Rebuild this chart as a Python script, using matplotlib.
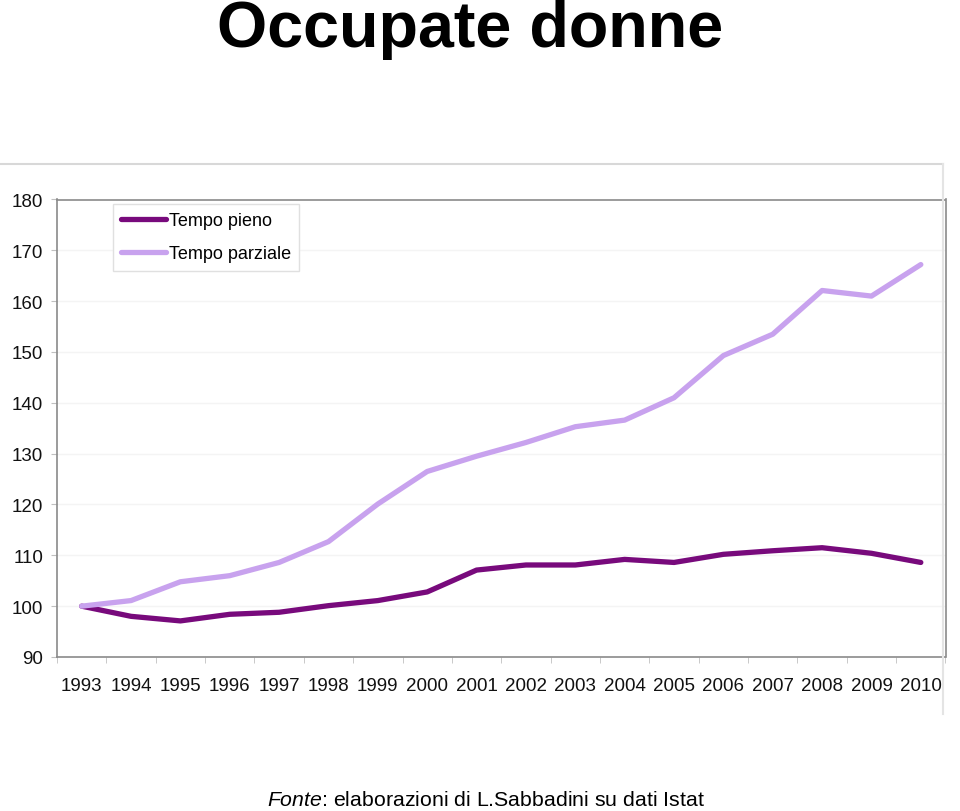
import matplotlib.pyplot as plt
from matplotlib.lines import Line2D

plt.rcParams['font.family'] = ['Liberation Sans', 'DejaVu Sans']
plt.rcParams['mathtext.fontset'] = 'custom'
plt.rcParams['mathtext.it'] = 'Liberation Sans:italic'
plt.rcParams['mathtext.rm'] = 'Liberation Sans'

anni = ['1993', '1994', '1995', '1996', '1997', '1998', '1999', '2000', '2001',
        '2002', '2003', '2004', '2005', '2006', '2007', '2008', '2009', '2010']
tempo_pieno = [100, 98.0, 97.1, 98.4, 98.8, 100.1, 101.1, 102.8, 107.1,
               108.1, 108.1, 109.2, 108.6, 110.2, 110.9, 111.5, 110.4, 108.6]
tempo_parziale = [100, 101.1, 104.8, 106.0, 108.6, 112.7, 120.1, 126.5, 129.5,
                  132.2, 135.3, 136.6, 141.0, 149.3, 153.5, 162.1, 161.0, 167.2]

fig = plt.figure(figsize=(9.6, 8.12), dpi=100)

fig.text(0.49, 0.942, 'Occupate donne', ha='center', va='baseline',
         fontsize=46.5, fontweight='bold')

# cornice dell'immagine del grafico
fig.add_artist(Line2D([0, 943/960], [1-165/812, 1-165/812], color='#d8d8d8', lw=1.5))
fig.add_artist(Line2D([943/960, 943/960], [1-165/812, 1-715/812], color='#e4e4e4', lw=1.5))

ax = fig.add_axes([57/960, 1-658/812, 888.5/960, 457.5/812])
x = list(range(len(anni)))
ax.plot(x, tempo_pieno, color='#780a7c', lw=3.8, solid_capstyle='round', label='Tempo pieno')
ax.plot(x, tempo_parziale, color='#c8a2ee', lw=3.8, solid_capstyle='round', label='Tempo parziale')

ax.set_xlim(-0.5, len(anni) - 0.5)
ax.set_ylim(90, 180)
ax.set_yticks(range(90, 181, 10))
ax.set_xticks(x)
ax.set_xticklabels(anni)
ax.set_xticks([i - 0.5 for i in range(len(anni) + 1)], minor=True)
ax.tick_params(axis='x', which='major', length=0, pad=14.5, labelsize=13.5, colors='#111111')
ax.tick_params(axis='x', which='minor', length=4, color='#c0c0c0')
ax.tick_params(axis='y', length=4, color='#c0c0c0', pad=6, labelsize=13.5, labelcolor='#111111')
ax.grid(axis='y', color='#f4f4f4', lw=1)
ax.set_axisbelow(True)
for s in ax.spines.values():
    s.set_color('#8a8a8a')
    s.set_linewidth(1.2)

ax.legend(loc='upper left', bbox_to_anchor=(0.063, 0.99), borderaxespad=0,
          fontsize=13, handlelength=2.5, handletextpad=0.15, labelspacing=0.9,
          borderpad=0.45, fancybox=False, edgecolor='#e0e0e0', framealpha=1)

fig.text(0.506, 0.007, r'$\it{Fonte}$: elaborazioni di L.Sabbadini su dati Istat',
         ha='center', va='baseline', fontsize=15.3)

fig.savefig('out.png', dpi=100)
